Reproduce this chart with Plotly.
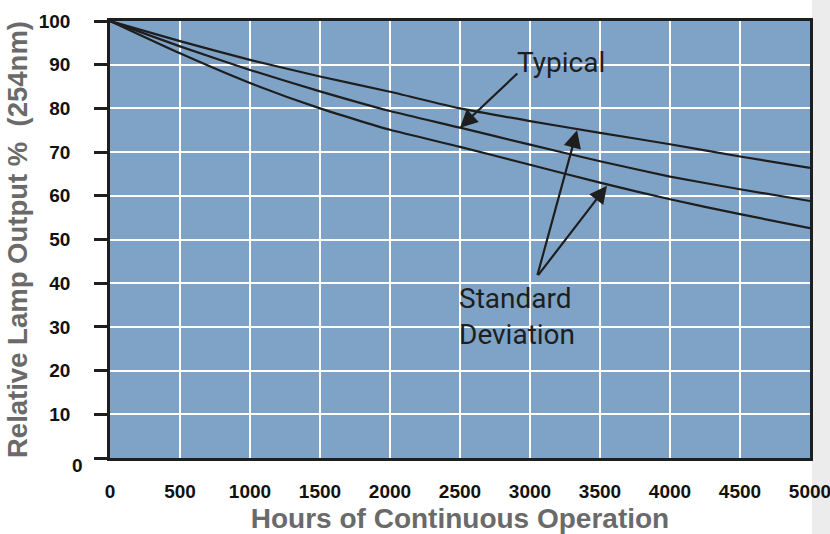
import plotly.graph_objects as go

hours = [0, 500, 1000, 1500, 2000, 2500, 3000, 3500, 4000, 4500, 5000]
upper_sd = [100, 95.4, 91.1, 87.3, 83.8, 80.0, 77.1, 74.4, 71.8, 69.0, 66.4]
typical = [100, 94.2, 88.8, 83.9, 79.4, 75.6, 71.7, 67.9, 64.4, 61.5, 58.8]
lower_sd = [100, 92.6, 85.8, 80.0, 75.1, 71.2, 67.1, 63.0, 59.2, 55.8, 52.6]

x_ticks = [0, 500, 1000, 1500, 2000, 2500, 3000, 3500, 4000, 4500, 5000]
y_ticks = [0, 10, 20, 30, 40, 50, 60, 70, 80, 90, 100]

fig = go.Figure()
for name, ys in [("Upper", upper_sd), ("Typical", typical), ("Lower", lower_sd)]:
    fig.add_trace(go.Scatter(x=hours, y=ys, mode="lines", name=name,
                             line=dict(color="#1e1e1e", width=2.2, shape="spline", smoothing=0.5),
                             showlegend=False, hoverinfo="skip"))

txt_font = dict(family="Roboto, Liberation Sans, Arial", size=28, color="#1e1e1e")

fig.add_annotation(x=2500, y=75.6, ax=2920, ay=88.3, xref="x", yref="y", axref="x", ayref="y",
                   text="", showarrow=True, arrowhead=2, arrowsize=1.6, arrowwidth=2.2,
                   arrowcolor="#1e1e1e")
fig.add_annotation(x=2895, y=90.4, xref="x", yref="y", text="Typical", showarrow=False,
                   xanchor="left", yanchor="middle", font=txt_font)
fig.add_annotation(x=3336, y=75.0, ax=3050, ay=41.5, xref="x", yref="y", axref="x", ayref="y",
                   text="", showarrow=True, arrowhead=2, arrowsize=1.6, arrowwidth=2.2,
                   arrowcolor="#1e1e1e")
fig.add_annotation(x=3550, y=62.3, ax=3050, ay=41.5, xref="x", yref="y", axref="x", ayref="y",
                   text="", showarrow=True, arrowhead=2, arrowsize=1.6, arrowwidth=2.2,
                   arrowcolor="#1e1e1e")
fig.add_annotation(x=2480, y=32.3, xref="x", yref="y", text="Standard<br>Deviation",
                   showarrow=False, xanchor="left", yanchor="middle", align="left",
                   font=txt_font)

# the "0" label of the y axis sits slightly lower and to the right in the original
fig.add_annotation(x=-0.046, y=y_ticks[0], xref="paper", yref="y", text="<b>0</b>",
                   showarrow=False, xanchor="center", yanchor="middle", yshift=-7,
                   font=dict(size=19, color="#111"))

# light grey band at the right page edge
fig.add_shape(type="rect", xref="paper", yref="paper", x0=1.003, x1=1.03, y0=-0.2, y1=1.05,
              fillcolor="#ececec", line_width=0, layer="below")

fig.update_layout(
    width=830, height=534,
    margin=dict(l=110, r=20, t=21, b=76, autoexpand=False),
    paper_bgcolor="white",
    plot_bgcolor="#7fa3c6",
    font=dict(family="Liberation Sans, Arial", color="#111"),
    xaxis=dict(range=[0, 5000], tickvals=x_ticks, ticktext=[f"<b>{v}</b>" for v in x_ticks],
               showgrid=True, gridcolor="white", gridwidth=2.2, zeroline=False,
               showline=True, linecolor="#1e1e1e", linewidth=2.5, mirror=True,
               ticks="", ticklabelstandoff=14, automargin=False, ticklabeloverflow="allow",
               tickfont=dict(size=19, color="#111"),
               title=dict(text="<b>Hours of Continuous Operation</b>",
                          font=dict(size=28, color="#6a6a6a"), standoff=11)),
    yaxis=dict(range=[0, 100], tickvals=y_ticks,
               ticktext=[("" if v == 0 else f"<b>{v}</b>") for v in y_ticks],
               showgrid=True, gridcolor="white", gridwidth=2.2, zeroline=False,
               showline=True, linecolor="#1e1e1e", linewidth=2.5, mirror=True,
               ticks="outside", ticklen=13, tickwidth=2.5, tickcolor="#1e1e1e",
               ticklabelstandoff=20, automargin=False, ticklabeloverflow="allow",
               tickfont=dict(size=19, color="#111"),
               title=dict(text="<b>Relative Lamp Output %  (254nm)</b>",
                          font=dict(size=27.5, color="#6a6a6a"), standoff=4)),
)

fig.write_html("out.html", config={"displayModeBar": False},
               post_script="document.body.style.margin='0';document.body.style.overflow='hidden';")
